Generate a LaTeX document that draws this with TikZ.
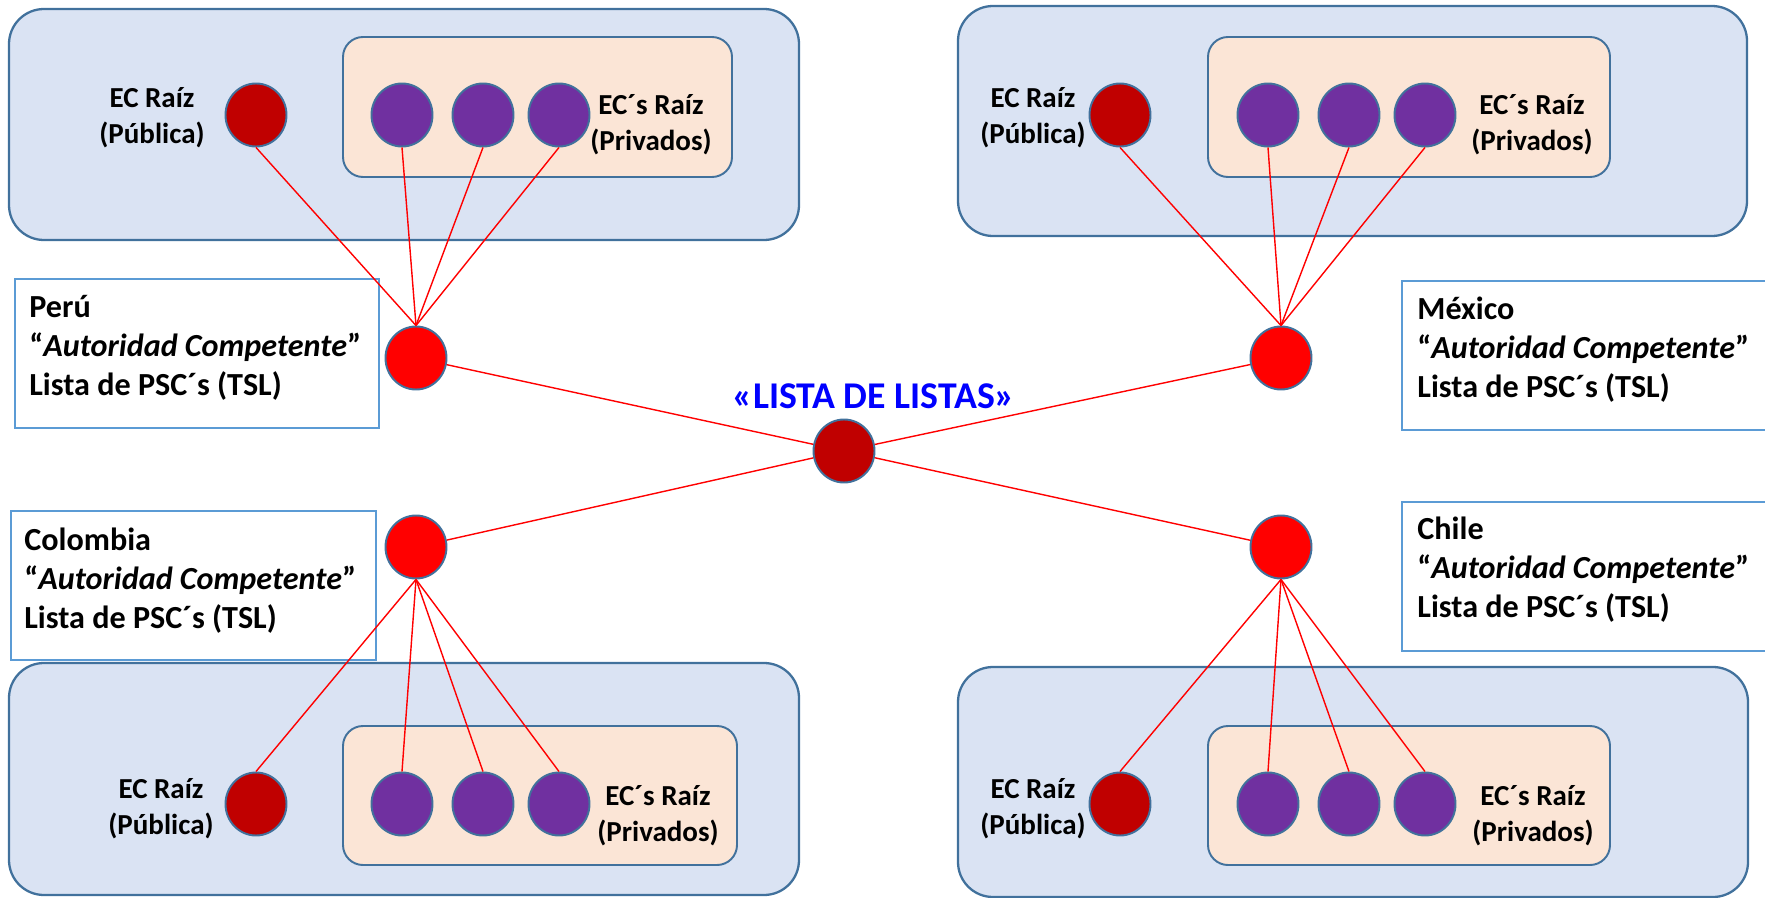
\documentclass[tikz,border=0pt]{standalone}
\usepackage{fontspec}
\setmainfont{Carlito}
\usetikzlibrary{shapes.geometric}
\definecolor{grpfill}{HTML}{DAE3F3}
\definecolor{grpline}{HTML}{41719C}
\definecolor{subfill}{HTML}{FBE5D6}
\definecolor{pubred}{HTML}{C00000}
\definecolor{privpurple}{HTML}{7030A0}
\definecolor{paisline}{HTML}{5B9BD5}

\begin{document}
\begin{tikzpicture}[
    grp/.style={draw=grpline,line width=1.3pt,fill=grpfill,rounded corners=0.7cm,inner sep=0pt,minimum width=15.8cm,minimum height=4.62cm},
    sub/.style={draw=grpline,line width=1.1pt,fill=subfill,rounded corners=0.4cm,inner sep=0pt,minimum height=2.8cm},
    ec/.style={ellipse,draw=grpline,line width=1.1pt,minimum width=1.22cm,minimum height=1.26cm,inner sep=0pt},
    pub/.style={ec,fill=pubred},
    priv/.style={ec,fill=privpurple},
    hub/.style={ec,fill=red},
    pais/.style={draw=paisline,line width=1.1pt,fill=white,inner sep=0pt,minimum width=7.28cm,minimum height=2.98cm},
    lbl/.style={font=\fontsize{16.5}{20.4}\selectfont\bfseries,align=center,inner sep=0pt},
    ptxt/.style={font=\fontsize{18.3}{22.2}\selectfont\bfseries,align=left,inner sep=0pt,anchor=north west},
    link/.style={red,line width=0.8pt}]
    \useasboundingbox (0,0) rectangle (35.3,-17.96);

    % Peru
    \node[grp] (perugrp) at (8.08,-2.49) {};
    \node[sub,minimum width=7.78cm] (perusub) at (10.75,-2.14) {};
    \node[pais] (peru) at (3.94,-7.07) {};
    \node[ptxt] (perutxt) at ([xshift=0.3cm,yshift=-0.33cm]peru.north west) {Perú\\“\textit{Autoridad Competente}”\\Lista de PSC´s (TSL)};
    \node[lbl] (perupubtxt) at (3.04,-2.35) {EC Raíz\\(Pública)};
    \node[lbl] (peruprivtxt) at (13.02,-2.5) {EC´s Raíz\\(Privados)};
    \node[pub] (perupub) at (5.12,-2.3) {};
    \node[priv] (perua) at (8.04,-2.3) {};
    \node[priv] (perub) at (9.66,-2.3) {};
    \node[priv] (peruc) at (11.18,-2.3) {};
    \node[hub] (peruhub) at (8.32,-7.16) {};

    % Mexico
    \node[grp,minimum width=15.78cm,minimum height=4.6cm] (mexgrp) at (27.05,-2.42) {};
    \node[sub,minimum width=8.04cm] (mexsub) at (28.18,-2.14) {};
    \node[pais] (mex) at (31.68,-7.11) {};
    \node[ptxt] (mextxt) at ([xshift=0.32cm,yshift=-0.33cm]mex.north west) {México\\“\textit{Autoridad Competente}”\\Lista de PSC´s (TSL)};
    \node[lbl] (mexpubtxt) at (20.66,-2.35) {EC Raíz\\(Pública)};
    \node[lbl] (mexprivtxt) at (30.64,-2.5) {EC´s Raíz\\(Privados)};
    \node[pub] (mexpub) at (22.4,-2.3) {};
    \node[priv] (mexa) at (25.36,-2.3) {};
    \node[priv] (mexb) at (26.98,-2.3) {};
    \node[priv] (mexc) at (28.5,-2.3) {};
    \node[hub] (mexhub) at (25.62,-7.16) {};

    % Colombia
    \node[grp,minimum height=4.64cm] (colgrp) at (8.08,-15.58) {};
    \node[sub,minimum width=7.88cm,minimum height=2.78cm] (colsub) at (10.8,-15.91) {};
    \node[pais,minimum width=7.3cm] (col) at (3.87,-11.71) {};
    \node[ptxt] (coltxt) at ([xshift=0.28cm,yshift=-0.35cm]col.north west) {Colombia\\“\textit{Autoridad Competente}”\\Lista de PSC´s (TSL)};
    \node[lbl] (colpubtxt) at (3.22,-16.17) {EC Raíz\\(Pública)};
    \node[lbl] (colprivtxt) at (13.16,-16.32) {EC´s Raíz\\(Privados)};
    \node[pub] (colpub) at (5.12,-16.08) {};
    \node[priv] (cola) at (8.04,-16.08) {};
    \node[priv] (colb) at (9.66,-16.08) {};
    \node[priv] (colc) at (11.18,-16.08) {};
    \node[hub] (colhub) at (8.32,-10.94) {};

    % Chile
    \node[grp,minimum height=4.6cm] (chigrp) at (27.06,-15.64) {};
    \node[sub,minimum width=8.04cm,minimum height=2.78cm] (chisub) at (28.18,-15.91) {};
    \node[pais] (chi) at (31.68,-11.53) {};
    \node[ptxt] (chitxt) at ([xshift=0.32cm,yshift=-0.31cm]chi.north west) {Chile\\“\textit{Autoridad Competente}”\\Lista de PSC´s (TSL)};
    \node[lbl] (chipubtxt) at (20.66,-16.17) {EC Raíz\\(Pública)};
    \node[lbl] (chiprivtxt) at (30.66,-16.31) {EC´s Raíz\\(Privados)};
    \node[pub] (chipub) at (22.4,-16.08) {};
    \node[priv] (chia) at (25.36,-16.08) {};
    \node[priv] (chib) at (26.98,-16.08) {};
    \node[priv] (chic) at (28.5,-16.08) {};
    \node[hub] (chihub) at (25.62,-10.94) {};

    % lista de listas
    \node[pub] (lista) at (16.88,-9.02) {};
    \node[font=\fontsize{21.5}{25}\selectfont\bfseries,text=blue,inner sep=0pt] (listatxt) at (17.48,-7.92) {«LISTA DE LISTAS»};

    \draw[link] (peruhub.north) -- (perupub.south);
    \draw[link] (peruhub.north) -- (perua.south);
    \draw[link] (peruhub.north) -- (perub.south);
    \draw[link] (peruhub.north) -- (peruc.south);
    \draw[link] (mexhub.north) -- (mexpub.south);
    \draw[link] (mexhub.north) -- (mexa.south);
    \draw[link] (mexhub.north) -- (mexb.south);
    \draw[link] (mexhub.north) -- (mexc.south);
    \draw[link] (colhub.south) -- (colpub.north);
    \draw[link] (colhub.south) -- (cola.north);
    \draw[link] (colhub.south) -- (colb.north);
    \draw[link] (colhub.south) -- (colc.north);
    \draw[link] (chihub.south) -- (chipub.north);
    \draw[link] (chihub.south) -- (chia.north);
    \draw[link] (chihub.south) -- (chib.north);
    \draw[link] (chihub.south) -- (chic.north);
    \draw[link] (peruhub) -- (lista);
    \draw[link] (mexhub) -- (lista);
    \draw[link] (colhub) -- (lista);
    \draw[link] (chihub) -- (lista);
\end{tikzpicture}
\end{document}
